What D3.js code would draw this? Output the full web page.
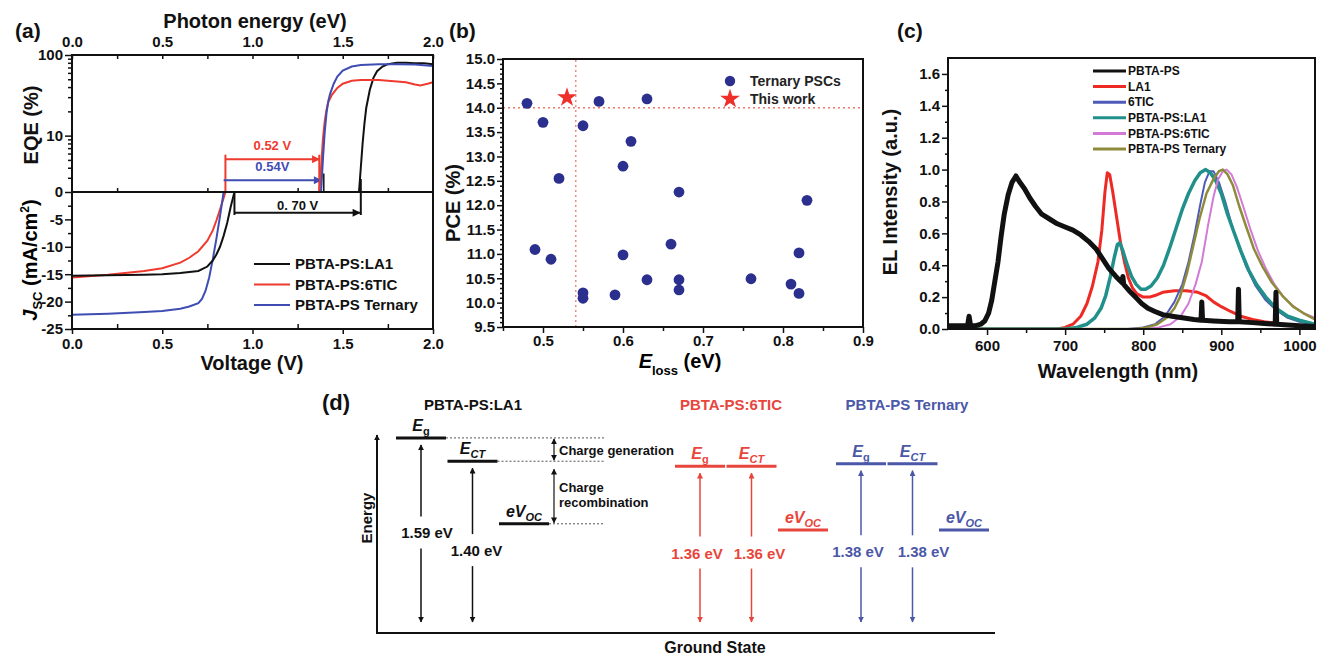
<!DOCTYPE html>
<html>
<head>
<meta charset="utf-8">
<script src="https://cdn.jsdelivr.net/npm/d3@7"></script>
<style>
  body { margin: 0; background: #fff; }
  svg { font-family: "Liberation Sans", Arial, Helvetica, sans-serif; font-weight: bold; }
</style>
</head>
<body>
<svg id="fig" width="1318" height="656"></svg>
<script>
// ---------- (a) J-V curves: [voltage (V), J (mA/cm2)]
const jvLA1 = [[0,-15.3],[0.2,-15.2],[0.4,-15.1],[0.5,-15.0],[0.6,-14.8],[0.7,-14.4],[0.75,-13.6],[0.78,-12.5],[0.80,-11.4],[0.82,-10.0],[0.84,-8.0],[0.86,-5.6],[0.88,-2.6],[0.90,0]];
const jv6TIC = [[0,-15.6],[0.2,-15.1],[0.4,-14.4],[0.5,-13.9],[0.6,-12.9],[0.65,-12.0],[0.7,-10.8],[0.75,-8.9],[0.78,-7.0],[0.80,-5.2],[0.82,-3.2],[0.84,-1.1],[0.85,0]];
const jvTernary = [[0,-22.4],[0.2,-22.2],[0.4,-21.9],[0.5,-21.7],[0.6,-21.3],[0.65,-20.9],[0.7,-20.3],[0.72,-19.5],[0.74,-18.0],[0.76,-15.6],[0.78,-12.3],[0.80,-8.5],[0.82,-4.4],[0.84,0]];
// ---------- (a) EQE: [photon energy (eV), EQE (%)]
const eqeLA1 = [[1.59,2],[1.60,4],[1.61,8],[1.62,14],[1.63,22],[1.65,37],[1.67,52],[1.69,63],[1.72,72],[1.75,77],[1.8,80],[1.85,80],[1.9,79],[1.95,79],[2.0,77]];
const eqe6TIC = [[1.37,2],[1.38,4],[1.39,9],[1.40,15],[1.41,21],[1.42,26],[1.44,32],[1.47,39],[1.50,44],[1.55,48],[1.6,49],[1.7,49],[1.8,47],[1.85,46],[1.9,43],[1.93,42],[1.97,44],[2.0,46]];
const eqeTernary = [[1.38,2],[1.39,5],[1.40,11],[1.41,19],[1.42,27],[1.43,33],[1.45,44],[1.47,54],[1.50,64],[1.55,72],[1.6,75],[1.7,77],[1.8,77],[1.9,76],[2.0,73]];
const jvNames = ["PBTA-PS:LA1", "PBTA-PS:6TIC", "PBTA-PS Ternary"];
const vocValues = [0.90, 0.85, 0.84];
const egPhoton = [1.60, 1.37, 1.38];
const lossLabels = ["0. 70 V", "0.52 V", "0.54V"];

// ---------- (b) Eloss vs PCE
const eLoss = [0.48,0.49,0.50,0.51,0.52,0.55,0.55,0.55,0.57,0.59,0.60,0.60,0.61,0.63,0.63,0.66,0.67,0.67,0.67,0.76,0.81,0.82,0.82,0.83];
const pce   = [14.09,11.09,13.70,10.89,12.55,13.63,10.20,10.09,14.13,10.16,12.80,10.98,13.31,14.18,10.47,11.20,12.27,10.47,10.26,10.49,10.38,11.02,10.19,12.10];
const thisWork = [0.53, 14.21];
const refLoss = 0.541, refPce = 14.0;
const scatterNames = ["Ternary PSCs", "This work"];

// ---------- (c) EL spectra: [wavelength (nm), intensity]
const elPBTAPS = [[550,0.02],[560,0.02],[570,0.02],[575,0.02],[577,0.08],[579,0.02],[585,0.02],[592,0.03],[597,0.05],[602,0.10],[606,0.18],[610,0.30],[614,0.42],[618,0.58],[622,0.72],[627,0.84],[632,0.92],[637,0.96],[642,0.92],[648,0.88],[655,0.82],[662,0.77],[670,0.72],[680,0.69],[690,0.66],[700,0.64],[710,0.62],[720,0.59],[730,0.55],[740,0.50],[748,0.44],[756,0.38],[765,0.33],[773,0.29],[774,0.33],[775,0.28],[782,0.24],[790,0.20],[798,0.16],[806,0.13],[815,0.11],[825,0.09],[837,0.08],[850,0.07],[865,0.06],[874,0.055],[875,0.17],[876,0.055],[890,0.05],[910,0.045],[921,0.045],[922,0.25],[923,0.045],[940,0.04],[955,0.035],[969,0.03],[970,0.23],[971,0.03],[985,0.025],[1000,0.02],[1020,0.015]];
const elLA1 = [[550,0],[690,0],[700,0.01],[710,0.03],[720,0.08],[728,0.16],[735,0.27],[742,0.42],[747,0.62],[751,0.86],[754,0.98],[757,0.97],[761,0.86],[766,0.70],[771,0.54],[776,0.42],[781,0.32],[786,0.26],[792,0.22],[800,0.20],[808,0.20],[815,0.21],[825,0.23],[840,0.24],[855,0.24],[870,0.23],[880,0.21],[890,0.17],[900,0.14],[912,0.11],[925,0.08],[940,0.06],[955,0.045],[970,0.035],[985,0.025],[1000,0.02],[1020,0.01]];
const el6TIC = [[550,0],[780,0],[800,0.01],[815,0.03],[828,0.08],[840,0.17],[850,0.28],[858,0.42],[866,0.60],[873,0.78],[879,0.92],[885,0.99],[890,0.99],[897,0.92],[905,0.80],[913,0.66],[922,0.52],[932,0.39],[944,0.27],[957,0.18],[970,0.12],[985,0.07],[1000,0.045],[1020,0.025]];
const elBlendLA1 = [[550,0],[700,0],[715,0.01],[728,0.03],[738,0.07],[746,0.13],[752,0.21],[758,0.33],[763,0.45],[767,0.53],[770,0.54],[774,0.49],[779,0.41],[785,0.33],[791,0.28],[797,0.25],[803,0.25],[810,0.27],[818,0.32],[826,0.40],[834,0.51],[842,0.63],[850,0.75],[858,0.85],[866,0.93],[873,0.98],[880,1.0],[886,0.98],[893,0.93],[900,0.85],[908,0.72],[916,0.61],[925,0.49],[935,0.37],[945,0.28],[957,0.20],[970,0.13],[985,0.08],[1000,0.055],[1020,0.03]];
const elBlend6TIC = [[550,0],[800,0],[820,0.01],[835,0.03],[848,0.08],[858,0.16],[867,0.28],[875,0.42],[883,0.65],[890,0.83],[896,0.94],[902,0.99],[907,1.0],[913,0.97],[920,0.89],[928,0.77],[937,0.63],[947,0.49],[957,0.38],[968,0.28],[980,0.20],[993,0.14],[1005,0.10],[1020,0.07]];
const elTernary = [[550,0],[790,0],[805,0.01],[818,0.03],[830,0.07],[840,0.13],[847,0.20],[856,0.35],[864,0.52],[872,0.69],[881,0.85],[890,0.94],[897,0.99],[902,1.0],[908,0.97],[915,0.90],[923,0.77],[932,0.64],[942,0.50],[953,0.39],[965,0.29],[978,0.21],[992,0.14],[1005,0.10],[1020,0.06]];
const elNames = ["PBTA-PS", "LA1", "6TIC", "PBTA-PS:LA1", "PBTA-PS:6TIC", "PBTA-PS Ternary"];

// ---------- (d) energy levels (eV)
const stateGroups = ["PBTA-PS:LA1", "PBTA-PS:6TIC", "PBTA-PS Ternary"];
const egLevels = [1.59, 1.36, 1.38];
const ectLevels = [1.40, 1.36, 1.38];
const vocLevels = [0.89, 0.84, 0.84];

// ===================================================================
const svg = d3.select("#fig");
const FONT = '"Liberation Sans", Arial, Helvetica, sans-serif';
const defs = svg.append("defs");

function arrowMarker(id, color, w, h) {
  defs.append("marker")
    .attr("id", id)
    .attr("viewBox", "0 0 10 10")
    .attr("refX", 9).attr("refY", 5)
    .attr("markerWidth", w).attr("markerHeight", h)
    .attr("markerUnits", "userSpaceOnUse")
    .attr("orient", "auto-start-reverse")
    .append("path").attr("d", "M0,0L10,5L0,10z").attr("fill", color);
}
arrowMarker("arA-red", "#ee3a2f", 11, 8);
arrowMarker("arA-blue", "#3f4db3", 11, 8);
arrowMarker("arA-black", "#111", 11, 8);
arrowMarker("arD-black", "#111", 6, 6);
arrowMarker("arD-red", "#e8453c", 6, 6);
arrowMarker("arD-blue", "#4b57a7", 6, 6);

function clip(id, x, y, w, h) {
  defs.append("clipPath").attr("id", id).append("rect")
    .attr("x", x).attr("y", y).attr("width", w).attr("height", h);
}

function styleAxis(g, size) {
  g.attr("font-family", FONT).attr("font-size", size).attr("font-weight", "bold");
  g.select(".domain").remove();
  g.selectAll("line").attr("stroke", "#111").attr("stroke-width", 1.5);
  g.selectAll("text").attr("fill", "#111");
}

function label(g, x, y, txt, size, opts = {}) {
  const t = g.append("text").attr("x", x).attr("y", y)
    .attr("font-size", size).attr("fill", opts.color || "#111")
    .attr("text-anchor", opts.anchor || "middle").text(txt);
  if (opts.rotate) t.attr("transform", `rotate(-90,${x},${y})`);
  return t;
}

// ============================ (a) ============================
const xa = d3.scaleLinear().domain([0, 2]).range([72, 433]);
const yEqe = d3.scaleLog().domain([2, 100]).range([192, 55]);
const yJ = d3.scaleLinear().domain([-25, 0]).range([329, 192]);
const pa = svg.append("g");
clip("clipEqe", 72, 55, 361, 137);
clip("clipJ", 72, 192, 361, 137);

const majorV = [0, 0.5, 1, 1.5, 2];
const minorV = [0.25, 0.75, 1.25, 1.75];

pa.append("g").attr("transform", "translate(0,329)")
  .call(d3.axisBottom(xa).tickValues(majorV).tickFormat(d3.format(".1f")).tickSizeInner(5).tickSizeOuter(0).tickPadding(4))
  .call(g => styleAxis(g, 15));
pa.append("g").attr("transform", "translate(0,329)")
  .call(d3.axisBottom(xa).tickValues(minorV).tickFormat("").tickSize(-5))
  .call(g => styleAxis(g, 15));
pa.append("g").attr("transform", "translate(0,55)")
  .call(d3.axisTop(xa).tickValues(majorV).tickFormat(d3.format(".1f")).tickSize(-4).tickPadding(8))
  .call(g => styleAxis(g, 15));
pa.append("g").attr("transform", "translate(0,55)")
  .call(d3.axisTop(xa).tickValues(minorV).tickFormat("").tickSize(-4))
  .call(g => styleAxis(g, 15));
pa.append("g").attr("transform", "translate(0,192)")
  .call(d3.axisTop(xa).tickValues(minorV).tickFormat("").tickSize(4))
  .call(g => styleAxis(g, 15));

pa.append("g").attr("transform", "translate(72,0)")
  .call(d3.axisLeft(yEqe).tickValues([2, 10, 100]).tickFormat(d => d === 2 ? "0" : String(d)).tickSize(7).tickPadding(2))
  .call(g => styleAxis(g, 15));
pa.append("g").attr("transform", "translate(72,0)")
  .call(d3.axisLeft(yEqe).tickValues([3,4,5,6,7,8,9,20,30,40,50,60,70,80,90]).tickFormat("").tickSize(4))
  .call(g => styleAxis(g, 15));
pa.append("g").attr("transform", "translate(72,0)")
  .call(d3.axisLeft(yJ).tickValues([-25, -20, -15, -10, -5]).tickFormat(d => String(d)).tickSize(7).tickPadding(2))
  .call(g => styleAxis(g, 15));
pa.append("g").attr("transform", "translate(72,0)")
  .call(d3.axisLeft(yJ).tickValues([-22.5, -17.5, -12.5, -7.5, -2.5]).tickFormat("").tickSize(4))
  .call(g => styleAxis(g, 15));

const colA = ["#111", "#ee3a2f", "#3f4db3"];
const lineEqe = d3.line().x(d => xa(d[0])).y(d => yEqe(d[1]));
const lineJ = d3.line().x(d => xa(d[0])).y(d => yJ(d[1]));

// loss markers
const gLoss = pa.append("g");
[vocValues[1], egPhoton[1]].forEach(v => {
  gLoss.append("line").attr("x1", xa(v)).attr("x2", xa(v))
    .attr("y1", yEqe(5.8)).attr("y2", yEqe(2)).attr("stroke", colA[1]).attr("stroke-width", 2);
});
gLoss.append("line").attr("x1", xa(1.395)).attr("x2", xa(1.395))
  .attr("y1", yEqe(3.4)).attr("y2", yEqe(2)).attr("stroke", "#111").attr("stroke-width", 1.5);
[[1, 5.1], [2, 2.8]].forEach(([i, lvl]) => {
  const x1 = xa(vocValues[i]), x2 = xa(egPhoton[i]), y = yEqe(lvl);
  gLoss.append("line").attr("x1", x1).attr("x2", x2).attr("y1", y).attr("y2", y)
    .attr("stroke", colA[i]).attr("stroke-width", 2)
    .attr("marker-end", `url(#arA-${i === 1 ? "red" : "blue"})`);
  label(gLoss, (x1 + x2) / 2, y - 9, lossLabels[i], 13, { color: colA[i] });
});
{
  const x1 = xa(vocValues[0]), x2 = xa(egPhoton[0]), y = yJ(-3.8);
  gLoss.append("line").attr("x1", x1).attr("x2", x1).attr("y1", yJ(0)).attr("y2", yJ(-4.2)).attr("stroke", "#111").attr("stroke-width", 2);
  gLoss.append("line").attr("x1", x2).attr("x2", x2).attr("y1", yEqe(2.9)).attr("y2", yJ(-4.2)).attr("stroke", "#111").attr("stroke-width", 2);
  gLoss.append("line").attr("x1", x1).attr("x2", x2 - 1).attr("y1", y).attr("y2", y)
    .attr("stroke", "#111").attr("stroke-width", 2).attr("marker-end", "url(#arA-black)");
  label(gLoss, (x1 + x2) / 2, y - 3, lossLabels[0], 13);
}

const eqeSets = [eqeLA1, eqe6TIC, eqeTernary];
const jvSets = [jvLA1, jv6TIC, jvTernary];
pa.append("g").attr("clip-path", "url(#clipEqe)")
  .selectAll("path").data(eqeSets).join("path")
  .attr("d", lineEqe).attr("fill", "none")
  .attr("stroke", (d, i) => colA[i]).attr("stroke-width", 2);
pa.append("g").attr("clip-path", "url(#clipJ)")
  .selectAll("path").data([jv6TIC, jvTernary, jvLA1]).join("path")
  .attr("d", lineJ).attr("fill", "none")
  .attr("stroke", d => colA[jvSets.indexOf(d)]).attr("stroke-width", 2);

pa.append("rect").attr("x", 72).attr("y", 55).attr("width", 361).attr("height", 274)
  .attr("fill", "none").attr("stroke", "#111").attr("stroke-width", 2);
pa.append("line").attr("x1", 72).attr("x2", 433).attr("y1", 192).attr("y2", 192)
  .attr("stroke", "#111").attr("stroke-width", 2);

const legA = pa.append("g").selectAll("g").data(jvNames).join("g")
  .attr("transform", (d, i) => `translate(254,${264 + i * 20.5})`);
legA.append("line").attr("x1", 0).attr("x2", 36).attr("stroke", (d, i) => colA[i]).attr("stroke-width", 2);
legA.append("text").attr("x", 41).attr("dy", "0.35em").attr("font-size", 15).attr("fill", "#111").text(d => d);

label(pa, 255, 28, "Photon energy (eV)", 20);
label(pa, 252, 370, "Voltage (V)", 20);
label(pa, 38, 125, "EQE (%)", 20, { rotate: true });
{
  const t = pa.append("text").attr("font-size", 20).attr("text-anchor", "middle")
    .attr("transform", "translate(37,260) rotate(-90)");
  t.append("tspan").attr("font-style", "italic").text("J");
  t.append("tspan").attr("font-size", 13).attr("dy", 5).text("SC");
  t.append("tspan").attr("dy", -5).text(" (mA/cm");
  t.append("tspan").attr("font-size", 12).attr("dy", -8).text("2");
  t.append("tspan").attr("dy", 8).text(")");
}
label(pa, 15, 38, "(a)", 21, { anchor: "start" });

// ============================ (b) ============================
const xb = d3.scaleLinear().domain([0.45, 0.9]).range([503, 863]);
const yb = d3.scaleLinear().domain([9.5, 15]).range([327, 59]);
const pb = svg.append("g");

pb.append("g").attr("transform", "translate(0,327)")
  .call(d3.axisBottom(xb).tickValues([0.5, 0.6, 0.7, 0.8, 0.9]).tickFormat(d3.format(".1f")).tickSizeInner(6).tickSizeOuter(0).tickPadding(2))
  .call(g => styleAxis(g, 15));
pb.append("g").attr("transform", "translate(0,327)")
  .call(d3.axisBottom(xb).tickValues([0.45, 0.55, 0.65, 0.75, 0.85]).tickFormat("").tickSize(4))
  .call(g => styleAxis(g, 15));
pb.append("g").attr("transform", "translate(503,0)")
  .call(d3.axisLeft(yb).tickValues(d3.range(9.5, 15.01, 0.5)).tickFormat(d3.format(".1f")).tickSize(6).tickPadding(2))
  .call(g => styleAxis(g, 15));
pb.append("g").attr("transform", "translate(503,0)")
  .call(d3.axisLeft(yb).tickValues(d3.range(9.6, 15, 0.1).filter(v => Math.abs(v * 2 - Math.round(v * 2)) > 0.01)).tickFormat("").tickSize(3))
  .call(g => styleAxis(g, 15));

pb.append("line").attr("x1", xb(refLoss)).attr("x2", xb(refLoss)).attr("y1", yb(9.5)).attr("y2", yb(15))
  .attr("stroke", "#ee7a68").attr("stroke-width", 1.3).attr("stroke-dasharray", "2,3");
pb.append("line").attr("x1", xb(0.45)).attr("x2", xb(0.9)).attr("y1", yb(refPce)).attr("y2", yb(refPce))
  .attr("stroke", "#ee7a68").attr("stroke-width", 1.3).attr("stroke-dasharray", "2,3");

pb.append("g").selectAll("circle").data(d3.zip(eLoss, pce)).join("circle")
  .attr("cx", d => xb(d[0])).attr("cy", d => yb(d[1])).attr("r", 5.4)
  .attr("fill", "#2b2f8e");
const star = d3.symbol(d3.symbolStar).size(120);
pb.append("path").attr("d", star)
  .attr("transform", `translate(${xb(thisWork[0])},${yb(thisWork[1])})`).attr("fill", "#ee2f2a");

pb.append("rect").attr("x", 503).attr("y", 59).attr("width", 360).attr("height", 268)
  .attr("fill", "none").attr("stroke", "#111").attr("stroke-width", 2);

pb.append("circle").attr("cx", 730).attr("cy", 81).attr("r", 5.2).attr("fill", "#2b2f8e");
pb.append("path").attr("d", star).attr("transform", "translate(730,99)").attr("fill", "#ee2f2a");
pb.selectAll("text.leg").data(scatterNames).join("text").attr("class", "leg")
  .attr("x", 750).attr("y", (d, i) => 81 + i * 18).attr("dy", "0.35em")
  .attr("font-size", 14).attr("fill", "#222").text(d => d);

{
  const t = pb.append("text").attr("x", 680).attr("y", 368).attr("font-size", 20).attr("text-anchor", "middle");
  t.append("tspan").attr("font-style", "italic").text("E");
  t.append("tspan").attr("font-size", 13).attr("dy", 7).text("loss");
  t.append("tspan").attr("dy", -7).text(" (eV)");
}
label(pb, 460, 203, "PCE (%)", 20, { rotate: true });
label(pb, 449, 38, "(b)", 21, { anchor: "start" });

// ============================ (c) ============================
const xc = d3.scaleLinear().domain([550, 1020]).range([948, 1315]);
const yc = d3.scaleLinear().domain([0, 1.7]).range([329, 58]);
const pc = svg.append("g");
clip("clipC", 948, 58, 367, 271);

pc.append("g").attr("transform", "translate(0,329)")
  .call(d3.axisBottom(xc).tickValues([600, 700, 800, 900, 1000]).tickFormat(d3.format("d")).tickSizeInner(6).tickSizeOuter(0).tickPadding(5))
  .call(g => styleAxis(g, 15));
pc.append("g").attr("transform", "translate(0,329)")
  .call(d3.axisBottom(xc).tickValues([650, 750, 850, 950]).tickFormat("").tickSize(4))
  .call(g => styleAxis(g, 15));
pc.append("g").attr("transform", "translate(948,0)")
  .call(d3.axisLeft(yc).tickValues([0, 0.2, 0.4, 0.6, 0.8, 1.0, 1.2, 1.4, 1.6]).tickFormat(d3.format(".1f")).tickSize(6).tickPadding(2))
  .call(g => styleAxis(g, 15));
pc.append("g").attr("transform", "translate(948,0)")
  .call(d3.axisLeft(yc).tickValues([0.1, 0.3, 0.5, 0.7, 0.9, 1.1, 1.3, 1.5]).tickFormat("").tickSize(3))
  .call(g => styleAxis(g, 15));

const colC = ["#111", "#ee2a24", "#4f5ab8", "#21908a", "#d27ad6", "#8e8c3c"];
const widC = [5, 3, 2, 3.5, 2, 2.5];
const elSets = [elPBTAPS, elLA1, el6TIC, elBlendLA1, elBlend6TIC, elTernary];
const lineC = d3.line().x(d => xc(d[0])).y(d => yc(d[1]));
const drawOrder = [1, 2, 3, 4, 5, 0];
pc.append("g").attr("clip-path", "url(#clipC)")
  .selectAll("path").data(drawOrder).join("path")
  .attr("d", i => lineC(elSets[i])).attr("fill", "none")
  .attr("stroke", i => colC[i]).attr("stroke-width", i => widC[i])
  .attr("stroke-linejoin", "round");

pc.append("rect").attr("x", 948).attr("y", 58).attr("width", 367).attr("height", 271)
  .attr("fill", "none").attr("stroke", "#111").attr("stroke-width", 2);

const legC = pc.append("g").selectAll("g").data(elNames).join("g")
  .attr("transform", (d, i) => `translate(1093,${71 + i * 15.6})`);
legC.append("line").attr("x1", 0).attr("x2", 33).attr("stroke", (d, i) => colC[i]).attr("stroke-width", 3);
legC.append("text").attr("x", 35).attr("dy", "0.35em").attr("font-size", 12).attr("fill", "#111").text(d => d);

label(pc, 1118, 378, "Wavelength (nm)", 20);
label(pc, 897, 192, "EL Intensity (a.u.)", 20, { rotate: true });
label(pc, 897, 38, "(c)", 21, { anchor: "start" });

// ============================ (d) ============================
const yd = d3.scaleLinear().domain([0, 1.63]).range([633, 433]);
const groupX = d3.scaleOrdinal().domain(stateGroups).range([396, 675, 836]);
const titleX = d3.scaleOrdinal().domain(stateGroups).range([473, 731, 907]);
const valueShift = [[6, 4], [-3, 8], [-3, 11]];
const colD = ["#111", "#e8453c", "#4b57a7"];
const mkD = ["black", "red", "blue"];
const levelW = 50, colStep = 51.5;
const pd = svg.append("g");

pd.append("line").attr("x1", 377).attr("x2", 377).attr("y1", yd(0)).attr("y2", yd(1.63) + 2)
  .attr("stroke", "#111").attr("stroke-width", 2).attr("marker-end", "url(#arD-black)");
pd.append("line").attr("x1", 376).attr("x2", 995).attr("y1", yd(0)).attr("y2", yd(0))
  .attr("stroke", "#111").attr("stroke-width", 2.2);
label(pd, 372, 518, "Energy", 15, { rotate: true });
label(pd, 715, 653, "Ground State", 16);
label(pd, 322, 410, "(d)", 22, { anchor: "start" });

function levelText(g, x, y, main, sub, color) {
  const t = g.append("text").attr("x", x).attr("y", y).attr("text-anchor", "middle")
    .attr("font-size", 16).attr("fill", color).attr("font-style", "italic");
  t.append("tspan").text(main);
  t.append("tspan").attr("font-size", 11).attr("dy", 4)
    .attr("font-style", sub === "g" ? "normal" : "italic").text(sub);
}

stateGroups.forEach((grp, gi) => {
  const color = colD[gi];
  const x0 = groupX(grp);
  const g = pd.append("g");
  label(g, titleX(grp), 410, grp, 15, { color });
  const levels = [
    { e: egLevels[gi], main: "E", sub: "g" },
    { e: ectLevels[gi], main: "E", sub: "CT" },
    { e: vocLevels[gi], main: "eV", sub: "OC" }
  ];
  levels.forEach((lv, ci) => {
    const xl = x0 + ci * colStep, y = yd(lv.e);
    g.append("line").attr("x1", xl).attr("x2", xl + levelW).attr("y1", y).attr("y2", y)
      .attr("stroke", color).attr("stroke-width", 3);
    levelText(g, xl + levelW / 2, y - 7, lv.main, lv.sub, color);
    if (ci < 2) {
      const xc0 = xl + levelW / 2, top = y + 7, bot = yd(0) - 11;
      const mid = (top + bot) / 2 + (gi === 0 && ci === 0 ? 0 : 6);
      g.append("line").attr("x1", xc0).attr("x2", xc0).attr("y1", mid - 17).attr("y2", top)
        .attr("stroke", color).attr("stroke-width", 1.5).attr("marker-end", `url(#arD-${mkD[gi]})`);
      g.append("line").attr("x1", xc0).attr("x2", xc0).attr("y1", mid + 15).attr("y2", bot)
        .attr("stroke", color).attr("stroke-width", 1.5).attr("marker-end", `url(#arD-${mkD[gi]})`);
      label(g, xc0 + valueShift[gi][ci], mid + 5, d3.format(".2f")(lv.e) + " eV", 15, { color });
    }
    if (gi === 0) {
      g.append("line").attr("x1", xl + levelW).attr("x2", 605).attr("y1", y).attr("y2", y)
        .attr("stroke", "#555").attr("stroke-width", 1).attr("stroke-dasharray", "2,2");
    }
  });
  if (gi === 0) {
    const yEg = yd(egLevels[0]), yCt = yd(ectLevels[0]), yVoc = yd(vocLevels[0]);
    g.append("line").attr("x1", 554).attr("x2", 554).attr("y1", yEg + 1).attr("y2", yCt - 1)
      .attr("stroke", "#111").attr("stroke-width", 1.2)
      .attr("marker-start", "url(#arD-black)").attr("marker-end", "url(#arD-black)");
    g.append("line").attr("x1", 554).attr("x2", 554).attr("y1", yCt + 8).attr("y2", yVoc - 1)
      .attr("stroke", "#111").attr("stroke-width", 1.2)
      .attr("marker-start", "url(#arD-black)").attr("marker-end", "url(#arD-black)");
    label(g, 559, (yEg + yCt) / 2 + 5, "Charge generation", 13, { anchor: "start" });
    label(g, 559, 492, "Charge", 13, { anchor: "start" });
    label(g, 559, 507, "recombination", 13, { anchor: "start" });
  }
});
</script>
</body>
</html>
